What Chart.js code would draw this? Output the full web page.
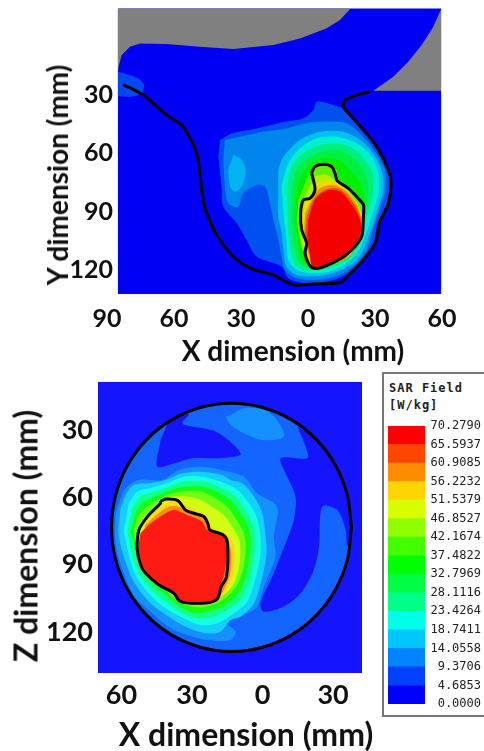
<!DOCTYPE html>
<html lang="en">
<head>
<meta charset="UTF-8">
<title>SAR Field</title>
<script src="https://cdn.jsdelivr.net/npm/chart.js"></script>
<style>
    html, body { margin: 0; background: #fff; }
    body { position: relative; width: 484px; height: 751px; overflow: hidden; }
    canvas { position: absolute; filter: blur(0.4px); }
    .axis-title { position: absolute; font: bold 28px Lato, sans-serif; color: #111; white-space: nowrap; transform: translate(-50%, -50%); }
    .axis-title.big { font-size: 32px; }
    .axis-title.rot { transform: translate(-50%, -50%) rotate(-90deg); }
    #legend-box { position: absolute; left: 382px; top: 372px; width: 110px; height: 345px; border: 2px solid #777; box-sizing: border-box; }
    #legend-title { position: absolute; left: 5px; top: 6px; font: bold 12px/17px "DejaVu Sans Mono", monospace; letter-spacing: 1px; color: #222; }
</style>
</head>
<body>
<canvas id="top-chart" width="484" height="362" style="left:0;top:-22px"></canvas>
<canvas id="bottom-chart" width="380" height="368" style="left:0;top:352px"></canvas>
<div id="legend-box"><div id="legend-title">SAR Field<br>[W/kg]</div></div>
<canvas id="legend-chart" width="97" height="300" style="left:384px;top:415px"></canvas>
<div class="axis-title" style="left:293px;top:350px">X dimension (mm)</div>
<div class="axis-title rot" style="left:57px;top:175px">Y dimension (mm)</div>
<div class="axis-title big" style="left:246px;top:733px">X dimension (mm)</div>
<div class="axis-title big rot" style="left:25px;top:536px">Z dimension (mm)</div>
<script>
    // legend values, bottom to top
    const sarValues = [0, 4.6853, 9.3706, 14.0558, 18.7411, 23.4264, 28.1116, 32.7969, 37.4822, 42.1674, 46.8527, 51.5379, 56.2232, 60.9085, 65.5937, 70.2790];
    const sarColors = ['#0000ff', '#0040ff', '#0084ff', '#00c8ff', '#00ffe8', '#00ff88', '#00ff44', '#00ff00', '#44ff00', '#90ff00', '#d8ff00', '#ffd500', '#ff8c00', '#ff4500', '#ff0000'];

    // axes (mm), negative side is printed without sign
    const topXTicks = [-90, -60, -30, 0, 30, 60];
    const topYTicks = [30, 60, 90, 120];
    const bottomXTicks = [-60, -30, 0, 30];
    const bottomYTicks = [30, 60, 90, 120];

    // ---- sagittal slice (x, y in mm) ----
    const topFrame = [[-85.1, -14.8], [59.6, -14.8], [59.6, 132.5], [-85.1, 132.5]];
    const topGrayLeft = [[-85.1, -14.8], [19.1, -14.8], [14.3, -8.8], [8.4, -4.5], [-3.6, 0.7], [-15.5, 4.1], [-33.4, 6.2], [-48.4, 5], [-63.3, 3.6], [-75.2, 3.3], [-79.7, 5], [-83.4, 9.3], [-84.8, 15.3], [-85.1, 18.4]];
    const topGrayRight = [[59.6, -14.4], [56.1, -5.3], [50.9, 4.1], [44.9, 12.7], [38.2, 20.4], [29.3, 27.7], [59.6, 27.7]];
    const topCorner = [[-85.1, 17.9], [-81.2, 19.1], [-76, 21.3], [-73.4, 24.7], [-74.5, 28.7], [-79, 30.8], [-85.1, 30.4]];
    const topL1 = [[-39.4, 53.1], [-34.2, 49.7], [-23, 47.1], [-9.6, 43.6], [-2.1, 41.9], [2.4, 37.6], [3.9, 33.3], [11.3, 35], [16.6, 37.6], [24.8, 48.8], [30.7, 57.4], [36.7, 68.6], [36.4, 82.3], [31.5, 99.5], [27.8, 111.5], [20.3, 120.1], [11.3, 125.3], [-0.6, 127], [-8.8, 124.4], [-11.8, 118.4], [-23, 113.2], [-27.5, 104.6], [-31.9, 96], [-37.9, 87.5], [-38.7, 77.1], [-40.1, 61.7]];
    const topL2 = [[-37.2, 53.1], [-30.4, 51.4], [-20, 48.8], [-9.6, 47.1], [-0.6, 44.5], [8.4, 43.6], [17.3, 44.5], [24.8, 51.4], [30, 59.1], [34.5, 68.6], [34.5, 78.9], [31.5, 90.9], [28.5, 101.2], [26.3, 109.8], [21.8, 116.7], [14.3, 122.7], [3.9, 125.3], [-5.1, 124.4], [-10.3, 120.1], [-11.8, 113.2], [-13.3, 104.6], [-15.5, 94.3], [-17, 85.7], [-19.3, 77.1], [-23, 76.3], [-29, 80.6], [-31.2, 87.5], [-35.7, 85.7], [-37.2, 77.1], [-37.9, 63.4]];
    const topL3Patch = [[-33.4, 60.8], [-29.7, 63.4], [-27.9, 69.4], [-29.7, 77.1], [-32.7, 79.7], [-34.9, 77.1], [-35.7, 68.6]];
    const topL3 = [[-13.3, 68.6], [-11, 61.7], [-3.6, 53.1], [5.4, 48.8], [15.8, 48.8], [23.3, 53.1], [29.3, 60], [33, 68.6], [33.7, 78.9], [30.7, 90.9], [27.8, 101.2], [24.8, 109.8], [20.3, 116.7], [11.3, 121.8], [2.4, 123.5], [-5.1, 122.7], [-9.6, 118.4], [-11, 109.8], [-11.8, 101.2], [-13.3, 92.6], [-13.3, 80.6]];
    const topL4 = [[-11.8, 77.1], [-8.8, 65.1], [-3.6, 57.4], [3.9, 52.2], [12.8, 51.4], [21.8, 54.8], [28.5, 61.7], [31.5, 70.3], [31.5, 80.6], [28.5, 92.6], [25.5, 102.9], [22.5, 110.6], [17.3, 116.7], [9.9, 120.9], [0.9, 121.8], [-5.1, 120.1], [-8.8, 114.9], [-9.6, 104.6], [-11, 90.9]];
    const topL5 = [[-9.6, 77.1], [-7.3, 66.8], [-2.1, 60], [5.4, 55.7], [12.8, 54.8], [20.3, 57.4], [26.3, 64.3], [29.3, 72], [28.5, 84], [24.8, 97.8], [22.5, 108.1], [18.1, 114.9], [9.9, 119.2], [0.9, 120.4], [-5.1, 118.4], [-7.3, 113.2], [-8.8, 101.2]];
    const topL6 = [[-7.3, 78.9], [-5.1, 68.6], [0.1, 62.5], [6.1, 59.1], [12.8, 58.2], [19.6, 61.7], [24.8, 68.6], [27, 77.1], [26.3, 87.5], [23.3, 102.9], [19.6, 111.5], [11.3, 117.5], [2.4, 119.8], [-3.6, 116.7], [-5.8, 109.8], [-7.3, 97.8]];
    const topL7 = [[-5.8, 82.3], [-2.8, 71.1], [1.6, 65.1], [6.9, 62.5], [13.6, 63.4], [19.6, 69.4], [24, 77.1], [25.5, 85.7], [24, 99.5], [21, 108.9], [12.8, 115.8], [3.1, 119.2], [-2.1, 115.8], [-4.3, 108.1], [-5.8, 96]];
    const topL8 = [[-4.3, 84], [-0.6, 73.7], [2.4, 67.7], [8.4, 65.5], [12.8, 68.6], [13.6, 72.9], [20.3, 78.9], [24.8, 87.5], [24, 101.2], [20.3, 109.8], [12.8, 115.8], [3.1, 118.4], [-1.3, 113.2], [-3.6, 104.6], [-5.1, 94.3]];
    const topL9 = [[-2.8, 85.7], [0.9, 77.1], [3.1, 72], [8.4, 71.1], [12.1, 73.7], [18.8, 80.6], [24, 90.9], [23.3, 102.9], [18.8, 112.4], [11.3, 116.7], [2.4, 118.7], [-1.3, 111.5], [-3.6, 101.2], [-3.6, 92.6]];
    const topL10 = [[-2.1, 87.5], [2.4, 78.9], [3.9, 75.4], [9.9, 73.7], [14.3, 76.3], [19.6, 82.3], [24, 92.6], [22.5, 104.6], [18.1, 113.2], [10.6, 117], [2.4, 118.4], [-0.6, 112.4], [-2.8, 101.2], [-2.8, 94.3]];
    const topL11 = [[-1.3, 90.9], [2.4, 82.3], [5.4, 78], [11.3, 76.3], [17.3, 79.7], [22.5, 88.3], [24, 96], [21.8, 106.4], [16.6, 114.1], [9.9, 116.7], [2.4, 118.9], [0.1, 111.5], [-1.8, 101.2]];
    const topL12 = [[-0.6, 92.6], [2.4, 84], [6.9, 79.2], [12.8, 78], [18.1, 82.3], [22.5, 90], [24, 97.8], [21.8, 106.4], [16.6, 114.1], [9.9, 116.7], [2.4, 118.9], [0.6, 111.5], [-1.3, 101.2]];
    const topL13 = [[0.1, 94.3], [3.1, 84], [8.4, 79.2], [14.3, 79.7], [19.6, 86.6], [23.3, 94.3], [23.6, 101.2], [21, 107.2], [15.8, 114.1], [8.4, 117.5], [2.4, 118.9], [0.9, 112.4], [-0.3, 102.9]];
    const topBodyLine = [[-82.7, 24.7], [-78.2, 27], [-73.7, 29.9], [-68.5, 35], [-63.3, 40.2], [-56.6, 45.4], [-52.8, 52.2], [-49.9, 60], [-48.4, 70.3], [-46.9, 84.9], [-43.9, 95.2], [-40.9, 102.1], [-34.2, 112.4], [-26, 119.2], [-15.5, 122.7], [-6.6, 127.8], [2.4, 127.3], [14.3, 126.6], [18.1, 122.7], [23.3, 116.7], [30, 106.4], [31.9, 96], [36, 85.7], [37.2, 75.4], [36, 68.6], [30.7, 56.5], [24.8, 47.9], [18.8, 40.2], [15.8, 35.9], [16.6, 32.5], [21.8, 29.9], [27.5, 28.2]];
    const topHotLine = [[1.6, 70.3], [3.1, 66.8], [6.9, 65.6], [10.6, 66.8], [12.1, 70.3], [13.1, 74.1], [18.1, 78], [22.5, 83.2], [24.8, 86.6], [24.8, 92.6], [24, 102.9], [19.6, 109.8], [13.6, 114.9], [4.6, 119.2], [1.2, 118.4], [-1.3, 111.5], [-0.6, 106.4], [-2.8, 99.5], [-3.3, 90.9], [-2.1, 84], [0.9, 83.2], [3.1, 78.9], [2.4, 73.7], [1.6, 70.3]];

    // ---- coronal slice (x, z in mm) ----
    const botFrame = [[-70, 8.5], [42.3, 8.5], [42.3, 138.3], [-70, 138.3]];
    const botCircle = [[37.8, 73.4], [36.1, 87.7], [31, 101.1], [22.9, 112.5], [12.3, 121.3], [0, 126.8], [-13.2, 128.7], [-26.4, 126.8], [-38.7, 121.3], [-49.3, 112.5], [-57.4, 101.1], [-62.5, 87.7], [-64.2, 73.4], [-62.5, 59.1], [-57.4, 45.7], [-49.3, 34.3], [-38.7, 25.5], [-26.4, 20], [-13.2, 18.1], [0, 20], [12.3, 25.5], [22.9, 34.3], [31, 45.7], [36.1, 59.1], [37.8, 73.4]];
    const botDarkA = [[-43.4, 34.5], [-44.8, 46.3], [-37.7, 44.9], [-29.9, 42.6], [-18.6, 42.6], [-9.4, 41.1], [-12.2, 36.7], [-20, 30.7], [-29.9, 28.5], [-34.2, 27], [-31.3, 23], [-37.7, 24.9], [-40.3, 27]];
    const botDarkB = [[14.8, 28.5], [18.3, 37.4], [19, 42.6], [7.7, 42.6], [9.8, 49.3], [14, 59.7], [13.3, 70.1], [9.8, 80.5], [4.1, 95.4], [-0.9, 107.3], [0.6, 111], [9.1, 108.7], [16.2, 102.8], [21.8, 92.4], [24, 82], [25.4, 64.2], [31.8, 65.7], [35.3, 74.6], [36, 82], [37.7, 74.6], [34.6, 53.8], [27.5, 40.4], [20.4, 32.2]];
    const botPatchTop = [[-13.6, 23.3], [-7.9, 20.3], [0.6, 21.1], [5.5, 24.8], [9.1, 33], [0.6, 34.5], [-6.5, 32.2], [-13.6, 27.8], [-15.7, 24.1]];
    const botL2 = [[-60.4, 60.5], [-58.3, 56], [-52.6, 52.3], [-42.7, 52.3], [-35.6, 47.8], [-25.7, 46.4], [-14.3, 48.6], [-7.9, 50.8], [-2.3, 58.2], [6.2, 64.2], [4.8, 77.5], [5.5, 86.5], [0.6, 99.8], [-1.6, 107.3], [-3.7, 110.2], [-13.6, 114.7], [-15, 116.2], [-11.5, 119.9], [-13.6, 123.6], [-23.5, 123.6], [-32.1, 121.4], [-39.1, 118.4], [-47.7, 111], [-54.8, 103.6], [-59.7, 91.7], [-62.6, 79.8], [-62.6, 67.9]];
    const botL3 = [[-58.3, 59], [-54.8, 54.5], [-48.4, 53.8], [-41.3, 52.3], [-34.2, 49.3], [-25.7, 48.6], [-17.2, 50.1], [-13.6, 52.3], [-8.7, 53.8], [-3.7, 59.7], [-0.1, 67.1], [1.3, 77.5], [1.7, 85], [-0.1, 95.4], [-3.7, 107.3], [-9.4, 113.2], [-13.6, 114.7], [-17.9, 119.9], [-24.3, 120.6], [-31.3, 118.4], [-39.9, 113.2], [-48.4, 106.5], [-54.8, 97.6], [-58.3, 88.7], [-61.2, 76.8], [-60.4, 64.9]];
    const botL4 = [[-56.9, 62.7], [-53.3, 57.5], [-47.7, 56], [-40.6, 53.8], [-33.5, 50.8], [-25.7, 50.8], [-17.9, 53], [-10.8, 56.7], [-5.8, 62.7], [-2.3, 69.4], [-0.9, 78.3], [-0.9, 85.7], [-3, 96.1], [-6.5, 106.5], [-12.2, 111.7], [-19.3, 116.2], [-26.4, 116.9], [-33.5, 113.9], [-41.3, 109.5], [-48.4, 102.8], [-54, 94.6], [-56.9, 85.7], [-59, 75.3]];
    const botL5 = [[-55.5, 65], [-51.9, 59.7], [-46.2, 57.5], [-39.9, 55.3], [-33.5, 53], [-25.7, 53], [-18.6, 55.3], [-12.2, 59], [-7.9, 65], [-4.4, 71.6], [-3, 79], [-3.7, 87.9], [-5.8, 97.6], [-9.4, 105.8], [-15, 110.2], [-20.7, 113.2], [-27.8, 113.9], [-34.2, 111.7], [-41.3, 106.5], [-47.7, 100.6], [-52.6, 93.9], [-55.5, 85], [-57.6, 75.3]];
    const botL6 = [[-54, 66.4], [-50.5, 62], [-45.5, 59.7], [-39.1, 56.7], [-32.8, 55.3], [-25.7, 55.3], [-19.3, 57.5], [-13.6, 61.2], [-9.4, 67.1], [-6.2, 73.1], [-5.1, 79.8], [-5.8, 88.7], [-7.9, 97.6], [-11.5, 104.3], [-17.2, 108.8], [-23.5, 111], [-29.2, 111.7], [-34.9, 108.8], [-41.3, 103.5], [-47, 98.4], [-51.2, 92.4], [-54, 84.2], [-56.1, 75.3]];
    const botL7 = [[-53.3, 68.6], [-49.1, 64.2], [-44.8, 61.2], [-38.4, 58.2], [-32.1, 57.2], [-25.7, 57.5], [-20, 60.5], [-15, 64.2], [-11.5, 69.4], [-8.2, 75.3], [-7.2, 81.3], [-7.9, 90.2], [-10.1, 97.6], [-13.6, 102.8], [-18.6, 106.8], [-24.3, 108.8], [-29.9, 108.8], [-35.6, 106.5], [-41.3, 101.3], [-46.2, 96.1], [-50.5, 90.2], [-53.3, 83.5], [-54.8, 75.3]];
    const botL8 = [[-51.9, 70.9], [-47, 65.7], [-42.7, 61.2], [-37.7, 59.7], [-32.1, 59.7], [-26.4, 61.2], [-21.4, 64.2], [-16.5, 67.9], [-12.9, 73.1], [-10.1, 78.3], [-9.4, 84.2], [-10.1, 91.7], [-12.2, 98.4], [-15.7, 102.8], [-20.7, 105.8], [-26.4, 107.3], [-32.1, 106.5], [-37, 103.5], [-42, 99.8], [-47, 94.6], [-50.5, 89.4], [-52.6, 82.8]];
    const botL9 = [[-50.5, 71.6], [-45.5, 66.4], [-41.3, 62.7], [-36.3, 61.6], [-31.3, 64.2], [-24.3, 67.9], [-21.4, 73.1], [-15, 76.8], [-12.2, 81.3], [-12.2, 93.2], [-15, 100.6], [-18.6, 105], [-26.4, 106.2], [-34.9, 106.2], [-39.9, 102.1], [-46.2, 96.9], [-51.2, 92.4], [-52.6, 84.2]];
    const botL10 = [[-49.8, 72.4], [-44.8, 67.6], [-39.9, 64.2], [-35.6, 64.2], [-30.6, 67.1], [-24.3, 70.1], [-22.1, 74.6], [-16.5, 76.8], [-13.6, 82.8], [-13.6, 93.2], [-16.5, 101.3], [-19.3, 104.7], [-26.4, 105.8], [-34.9, 105.8], [-39.9, 101.3], [-45.5, 96.9], [-50.5, 91.7], [-51.9, 84.2]];
    const botL11 = [[-51.9, 76], [-48.4, 72.4], [-43.4, 68.6], [-37.7, 65.7], [-32.1, 67.9], [-25.7, 70.9], [-23.5, 74.6], [-16.5, 76.8], [-15, 80.5], [-15.7, 90.9], [-17.9, 99.8], [-20, 105.8], [-28.5, 106.5], [-36.3, 105.8], [-38.4, 102.1], [-44.1, 99.1], [-50.5, 93.2], [-52.6, 85.7], [-52.6, 79.8]];
    const botHotLine = [[-43.4, 61.7], [-40.9, 60.8], [-36, 61.5], [-32.8, 65.7], [-29.2, 67.1], [-25, 68.6], [-23.3, 71.6], [-22.4, 74.6], [-17.2, 76.5], [-15, 79.8], [-15.3, 95.4], [-17.6, 99.8], [-19.3, 105.3], [-24.3, 107.1], [-34.9, 106.5], [-37.7, 102.8], [-44.1, 99.1], [-49.8, 93.9], [-51.9, 90.2], [-53.3, 83.5], [-52.6, 74.6], [-48.4, 67.9], [-43.4, 62.7], [-43.4, 61.7]];

    const topLayers = [
        [topFrame, '#0000f4', 0], [topGrayLeft, '#808080', 0], [topGrayRight, '#808080', 0],
        [topCorner, '#0048f4'], [topL1, '#0050f0'], [topL2, '#0084ee'], [topL3Patch, '#00b4f4'],
        [topL3, '#00c0f0'], [topL4, '#00f0d0'], [topL5, '#00f080'], [topL6, '#00f040'], [topL7, '#00f000'],
        [topL8, '#60f000'], [topL9, '#b0f000'], [topL10, '#f0d800'], [topL11, '#f09000'], [topL12, '#f04800'], [topL13, '#f40000']
    ];
    const bottomLayers = [
        [botFrame, '#1414ff', 0], [botCircle, '#1464ff'], [botDarkA, '#1414ff'], [botDarkB, '#1414ff'],
        [botPatchTop, '#1490ff'], [botL2, '#1490ff'], [botL3, '#14d0ff'], [botL4, '#14ffe0'], [botL5, '#14ff88'],
        [botL6, '#14ff14'], [botL7, '#70ff14'], [botL8, '#d0ff14'], [botL9, '#ffd814'], [botL10, '#ff8c14'], [botL11, '#ff1a14']
    ];

    function toPoints(list) {
        return list.map(p => ({ x: p[0], y: p[1] }));
    }

    function fillSet(layer, i) {
        return {
            data: toPoints(layer[0]),
            showLine: true,
            fill: 'shape',
            backgroundColor: layer[1],
            borderWidth: 0,
            pointRadius: 0,
            tension: layer[2] === 0 ? 0 : 0.3,
            order: -i
        };
    }

    function lineSet(list, i, width) {
        return {
            data: toPoints(list),
            showLine: true,
            fill: false,
            borderColor: '#000',
            borderWidth: width,
            pointRadius: 0,
            tension: 0.3,
            order: -i
        };
    }

    function makeField(id, layers, lines, cfg) {
        const sets = layers.map(fillSet);
        lines.forEach((l, i) => sets.push(lineSet(l, layers.length + i, 3)));
        const tickStyle = { color: '#111', font: { family: 'Lato, sans-serif', weight: 'bold', size: cfg.fontSize } };
        return new Chart(document.getElementById(id), {
            type: 'scatter',
            data: { datasets: sets },
            options: {
                responsive: false,
                animation: false,
                events: [],
                layout: { padding: { top: cfg.padTop, right: cfg.padRight, left: 0, bottom: 0 } },
                plugins: { legend: { display: false }, tooltip: { enabled: false } },
                scales: {
                    x: {
                        min: cfg.xMin, max: cfg.xMax,
                        grid: { display: false, drawTicks: false }, border: { display: false },
                        afterBuildTicks: s => { s.ticks = cfg.xTicks.map(v => ({ value: v })); },
                        afterFit: s => { s.height = cfg.xHeight; },
                        ticks: { ...tickStyle, padding: cfg.xPad, maxRotation: 0, autoSkip: false, callback: v => Math.abs(v) }
                    },
                    y: {
                        reverse: true, min: cfg.yMin, max: cfg.yMax,
                        grid: { display: false, drawTicks: false }, border: { display: false },
                        afterBuildTicks: s => { s.ticks = cfg.yTicks.map(v => ({ value: v })); },
                        afterFit: s => { s.width = cfg.yWidth; },
                        ticks: { ...tickStyle, padding: cfg.yPad, autoSkip: false, callback: v => v }
                    }
                }
            }
        });
    }

    makeField('top-chart', topLayers, [topBodyLine, topHotLine], {
        xMin: -87.3, xMax: 60, yMin: -15, yMax: 132.5, xTicks: topXTicks, yTicks: topYTicks,
        padTop: 30, padRight: 42, xHeight: 46, yWidth: 113, xPad: 10, yPad: 0, fontSize: 25
    });
    makeField('bottom-chart', bottomLayers, [botCircle, botHotLine], {
        xMin: -70, xMax: 42.3, yMin: 8.5, yMax: 138.3, xTicks: bottomXTicks, yTicks: bottomYTicks,
        padTop: 29.7, padRight: 18, xHeight: 47, yWidth: 98, xPad: 6, yPad: 5, fontSize: 27
    });

    // colour scale: one floating bar per band
    new Chart(document.getElementById('legend-chart'), {
        type: 'bar',
        data: {
            labels: [''],
            datasets: sarColors.map((c, i) => ({
                data: [[sarValues[i], sarValues[i + 1]]],
                backgroundColor: c,
                borderWidth: 0,
                barPercentage: 1,
                categoryPercentage: 1,
                grouped: false
            }))
        },
        options: {
            responsive: false,
            animation: false,
            events: [],
            layout: { padding: { top: 11, bottom: 11, left: 4, right: 0 } },
            plugins: { legend: { display: false }, tooltip: { enabled: false } },
            scales: {
                x: { display: false },
                y: {
                    position: 'right', min: 0, max: 70.279,
                    grid: { display: false, drawTicks: false }, border: { display: false },
                    afterBuildTicks: s => { s.ticks = sarValues.map(v => ({ value: v })); },
                    afterFit: s => { s.width = 56; },
                    ticks: {
                        color: '#222', crossAlign: 'far', padding: 0, autoSkip: false,
                        font: { family: '"DejaVu Sans Mono", monospace', size: 12 },
                        callback: v => v.toFixed(4)
                    }
                }
            }
        }
    });
</script>
</body>
</html>
